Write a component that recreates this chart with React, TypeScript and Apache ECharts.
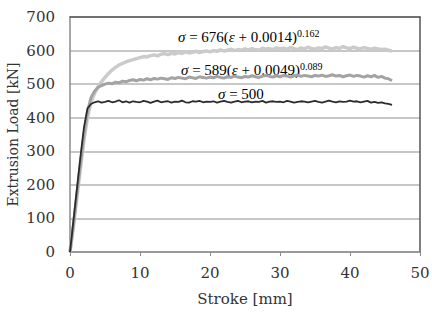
import React, { useEffect, useRef } from "react";
import * as echarts from "echarts";

// Stroke positions [mm], every 0.5 mm from 0 to 46
const stroke: number[] = Array.from({ length: 93 }, (_, i) => i * 0.5);

// Measured extrusion load [kN] for the three flow-stress models
const load676: number[] = [
  0, 78, 165, 250, 335, 400, 446, 472, 492, 507,
  520, 532, 542, 550, 557, 562, 566, 570, 573, 576,
  579, 582, 581, 585, 587, 584, 589, 591, 588, 592,
  590, 594, 592, 596, 593, 595, 598, 594, 597, 599,
  596, 600, 598, 602, 599, 601, 604, 600, 603, 601,
  605, 602, 606, 603, 601, 607, 604, 606, 603, 608,
  605, 607, 604, 609, 606, 603, 608, 605, 610, 606,
  604, 608, 606, 611, 607, 605, 609, 606, 612, 608,
  606, 610, 607, 605, 609, 606, 604, 607, 605, 603,
  604, 601, 599,
];

const load589: number[] = [
  0, 82, 175, 265, 350, 418, 460, 479, 490, 496,
  500, 503, 501, 506, 504, 509, 507, 511, 513, 510,
  514, 512, 516, 513, 517, 515, 518, 516, 514, 519,
  517, 520, 518, 516, 521, 519, 517, 522, 520, 518,
  521, 519, 523, 520, 518, 522, 520, 524, 521, 519,
  523, 521, 525, 522, 520, 524, 526, 523, 521, 525,
  522, 526, 524, 521, 525, 527, 523, 526, 524, 522,
  526, 524, 527, 523, 525, 528, 524, 526, 522, 525,
  527, 523, 526, 524, 521, 525, 522, 526, 520, 523,
  518, 516, 510,
];

const load500: number[] = [
  0, 95, 190, 285, 372, 428, 441, 446, 449, 445,
  447, 450, 446, 448, 452, 446, 449, 445, 449, 447,
  446, 450, 448, 444, 448, 451, 446, 448, 449, 445,
  448, 447, 451, 446, 445, 449, 448, 450, 446, 448,
  447, 449, 445, 448, 450, 447, 445, 448, 450, 446,
  448, 449, 446, 448, 447, 450, 445, 448, 449, 447,
  448, 446, 450, 448, 445, 447, 449, 448, 446, 448,
  450, 447, 445, 448, 451, 448, 446, 449, 447, 448,
  451, 448, 449, 446, 448, 450, 445, 447, 444, 446,
  443, 441, 438,
];

const pairs = (ys: number[]) => stroke.map((x, i) => [x, ys[i]]);

const tickFont = "DejaVu Serif";
const textFont = "Liberation Serif";

const richStyles = {
  n: { fontFamily: textFont, fontSize: 15, color: "#222", lineHeight: 20, verticalAlign: "bottom" },
  i: { fontFamily: textFont, fontSize: 15, fontStyle: "italic", color: "#222", lineHeight: 20, verticalAlign: "bottom" },
  s: { fontFamily: textFont, fontSize: 10, color: "#222", lineHeight: 14, verticalAlign: "top", padding: [4, 0, 0, 0] },
};

export default function App() {
  const ref = useRef<HTMLDivElement>(null);

  useEffect(() => {
    if (!ref.current) return;
    const chart = echarts.init(ref.current, null, { renderer: "svg" });
    chart.setOption({
      animation: false,
      backgroundColor: "#fff",
      grid: { left: 70, right: 12, top: 17, bottom: 62, outerBoundsMode: "none" },
      xAxis: [
        {
          type: "value",
          min: 0,
          max: 50,
          interval: 10,
          name: "Stroke [mm]",
          nameLocation: "middle",
          nameGap: 39,
          nameTextStyle: { fontFamily: tickFont, fontSize: 15, color: "#333" },
          axisLine: { show: true, lineStyle: { color: "#8a8a8a", width: 1.5 } },
          axisTick: { show: true, length: 4, lineStyle: { color: "#8a8a8a" } },
          axisLabel: { fontFamily: tickFont, fontSize: 15, color: "#333", margin: 13 },
          splitLine: { show: false },
        },
        {
          type: "value",
          position: "top",
          min: 0,
          max: 50,
          axisLine: { show: true, onZero: false, lineStyle: { color: "#555", width: 1.5 } },
          axisTick: { show: false },
          axisLabel: { show: false },
          splitLine: { show: false },
        },
      ],
      yAxis: [
        {
          type: "value",
          min: 0,
          max: 700,
          interval: 100,
          name: "Extrusion Load [kN]",
          nameLocation: "middle",
          nameGap: 50,
          nameMoveOverlap: false,
          nameTextStyle: { fontFamily: tickFont, fontSize: 14, color: "#333" },
          axisLine: { show: true, lineStyle: { color: "#8a8a8a", width: 1.5 } },
          axisTick: { show: false },
          axisLabel: { fontFamily: tickFont, fontSize: 15, color: "#333", margin: 15 },
          splitLine: { show: true, lineStyle: { color: "#b4b4b4", width: 1.5 } },
        },
        {
          type: "value",
          position: "right",
          min: 0,
          max: 700,
          axisLine: { show: true, onZero: false, lineStyle: { color: "#555", width: 1.5 } },
          axisTick: { show: false },
          axisLabel: { show: false },
          splitLine: { show: false },
        },
      ],
      series: [
        {
          type: "line",
          data: pairs(load676),
          showSymbol: false,
          lineStyle: { color: "#cbcbcb", width: 3.5 },
          z: 2,
        },
        {
          type: "line",
          data: pairs(load589),
          showSymbol: false,
          lineStyle: { color: "#a3a3a3", width: 3 },
          z: 3,
        },
        {
          type: "line",
          data: pairs(load500),
          showSymbol: false,
          lineStyle: { color: "#2b2b2b", width: 1.8 },
          z: 4,
        },
      ],
      graphic: [
        {
          type: "text",
          left: 178,
          top: 24,
          style: {
            text: "{i|σ}{n| = 676(}{i|ε}{n| + 0.0014)}{s|0.162}",
            rich: richStyles,
          },
        },
        {
          type: "text",
          left: 181,
          top: 57,
          style: {
            text: "{i|σ}{n| = 589(}{i|ε}{n| + 0.0049)}{s|0.089}",
            rich: richStyles,
          },
        },
        {
          type: "text",
          left: 218,
          top: 86,
          style: {
            text: "{i|σ}{n| = 500}",
            rich: richStyles,
          },
        },
      ],
    });
    return () => chart.dispose();
  }, []);

  return (
    <div
      ref={ref}
      style={{ position: "fixed", left: 0, top: 0, width: 432, height: 314 }}
    />
  );
}
